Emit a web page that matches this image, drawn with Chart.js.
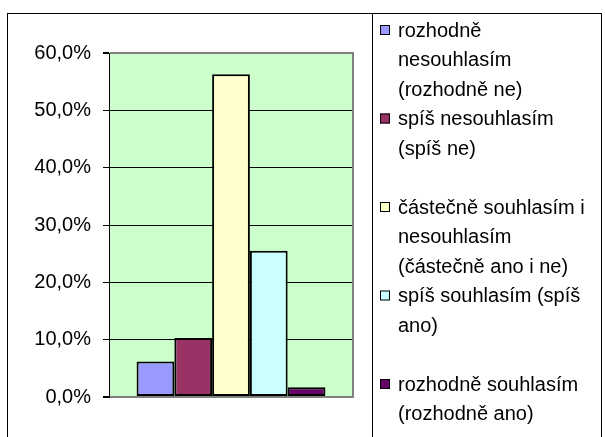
<!DOCTYPE html>
<html>
<head>
<meta charset="utf-8">
<script src="https://cdn.jsdelivr.net/npm/chart.js@4"></script>
<style>
  html, body { margin: 0; padding: 0; background: #fff; }
  canvas { display: block; }
</style>
</head>
<body>
<canvas id="surveyChart" width="605" height="437"></canvas>
<script>
var categories = [
    'rozhodně nesouhlasím (rozhodně ne)',
    'spíš nesouhlasím (spíš ne)',
    'částečně souhlasím i nesouhlasím (částečně ano i ne)',
    'spíš souhlasím (spíš ano)',
    'rozhodně souhlasím (rozhodně ano)'
];
var values = [6.2, 10.3, 56.3, 25.5, 1.7];
var colors = ['#9999FF', '#993366', '#FFFFCC', '#CCFFFF', '#660066'];
var yMin = 0, yMax = 60, yStep = 10;

var FONT = '"Liberation Sans", Arial, sans-serif';

// wrap legend text like excel does
function wrapText(ctx, text, maxWidth) {
    var words = text.split(' ');
    var lines = [];
    var line = '';
    words.forEach(function (w) {
        var test = line ? line + ' ' + w : w;
        if (line && ctx.measureText(test).width > maxWidth) {
            lines.push(line);
            line = w;
        } else {
            line = test;
        }
    });
    if (line) lines.push(line);
    return lines;
}

var frame = {
    id: 'frame',
    beforeDraw: function (chart) {
        var ctx = chart.ctx, a = chart.chartArea;
        ctx.save();
        ctx.fillStyle = '#CCFFCC';
        ctx.fillRect(a.left, a.top, a.right - a.left, a.bottom - a.top);
        ctx.restore();
    },
    afterDraw: function (chart) {
        var ctx = chart.ctx, a = chart.chartArea;
        ctx.save();
        // plot area right border
        ctx.strokeStyle = '#808080';
        ctx.lineWidth = 2;
        ctx.beginPath();
        ctx.moveTo(a.right, a.top - 1);
        ctx.lineTo(a.right, a.bottom + 1);
        ctx.stroke();

        // outer frame + legend frame
        ctx.strokeStyle = '#000';
        ctx.lineWidth = 1;
        ctx.strokeRect(7.5, 13.5, 594, 500);
        ctx.beginPath();
        ctx.moveTo(372.5, 13);
        ctx.lineTo(372.5, 437);
        ctx.stroke();

        // legend
        ctx.beginPath();
        ctx.rect(373, 14, 228, 423);
        ctx.clip();
        ctx.font = '20px ' + FONT;
        ctx.textBaseline = 'middle';
        ctx.textAlign = 'left';
        var lineH = 29.5, top = 31;
        chart.data.datasets.forEach(function (ds, i) {
            var base = top + i * 3 * lineH;
            ctx.fillStyle = ds.backgroundColor;
            ctx.fillRect(380, base - 6, 10, 10);
            ctx.strokeStyle = '#000';
            ctx.lineWidth = 1;
            ctx.strokeRect(380.5, base - 5.5, 9, 9);
            ctx.fillStyle = '#000';
            wrapText(ctx, ds.label, 196).forEach(function (ln, k) {
                ctx.fillText(ln, 398, base + k * lineH);
            });
        });
        ctx.restore();
    }
};

var ctx = document.getElementById('surveyChart').getContext('2d');
var surveyChart = new Chart(ctx, {
    type: 'bar',
    data: {
        labels: [''],
        datasets: categories.map(function (c, i) {
            return {
                label: c,
                data: [values[i]],
                backgroundColor: colors[i],
                borderColor: '#000',
                borderWidth: 2,
                borderSkipped: false
            };
        })
    },
    options: {
        responsive: false,
        animation: false,
        devicePixelRatio: 1,
        layout: { padding: { left: 0, top: 53, right: 252, bottom: 40 } },
        datasets: { bar: { categoryPercentage: 0.774, barPercentage: 1 } },
        plugins: {
            legend: { display: false },
            tooltip: { enabled: false }
        },
        scales: {
            x: { display: false },
            y: {
                min: yMin,
                max: yMax,
                ticks: {
                    stepSize: yStep,
                    color: '#000',
                    padding: 12,
                    font: { family: FONT, size: 20 },
                    callback: function (v) { return v.toFixed(1).replace('.', ',') + '%'; }
                },
                grid: {
                    color: function (c) {
                        return (c.tick && (c.tick.value === yMax || c.tick.value === yMin)) ? '#808080' : '#000';
                    },
                    lineWidth: function (c) {
                        return (c.tick && (c.tick.value === yMax || c.tick.value === yMin)) ? 2 : 1;
                    },
                    tickColor: '#000',
                    tickLength: 6
                },
                border: { color: '#000', width: 1 },
                afterFit: function (s) { s.width = 109; }
            }
        }
    },
    plugins: [frame]
});
</script>
</body>
</html>
